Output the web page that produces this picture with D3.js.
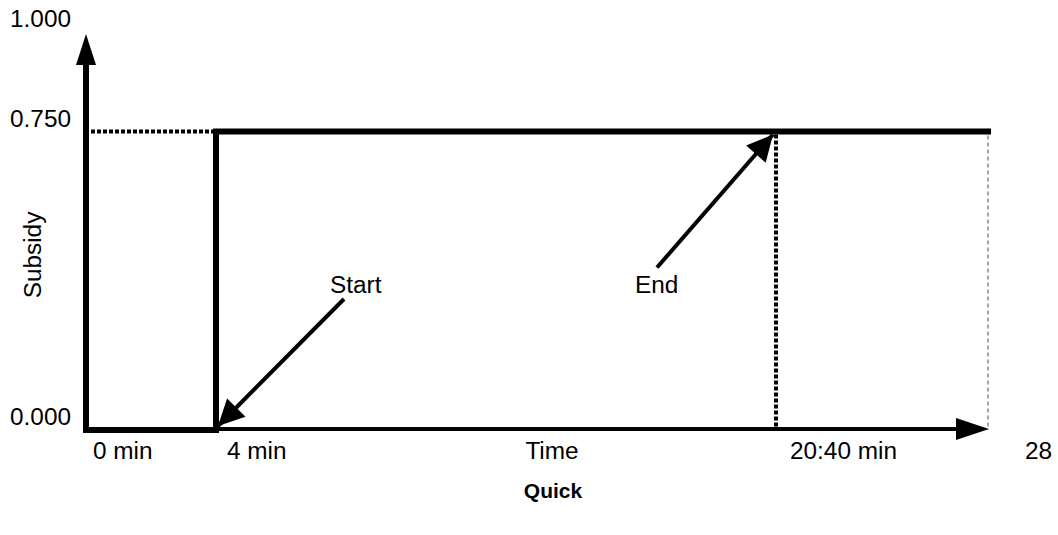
<!DOCTYPE html>
<html>
<head>
<meta charset="utf-8">
<script src="https://cdn.jsdelivr.net/npm/d3@7"></script>
<style>
  html, body { margin: 0; padding: 0; background: #fff; }
  text { font-family: 'Liberation Sans', Arial, sans-serif; fill: #000; }
</style>
</head>
<body>
<div id="chart"></div>
<script>
const width = 1058;
const height = 535;

// data
const timeTicks = [0, 4, 20 + 40 / 60, 28];
const timeLabels = ['0 min', '4 min', '20:40 min', '28'];
const subsidyTicks = [0, 0.75, 1];
const subsidyLabels = ['0.000', '0.750', '1.000'];
const stepTimes = [0, 4, 4, 28];
const stepValues = [0, 0, 0.75, 0.75];
const startTime = 4;
const endTime = 20 + 40 / 60;
const subsidyLevel = 0.75;

const svg = d3
  .select('#chart')
  .append('svg')
  .attr('width', width)
  .attr('height', height);

// schematic time axis, not to scale
const x = d3.scaleLinear().domain(timeTicks).range([87, 216, 776, 988]);
const y = d3.scaleLinear().domain([0, 1]).range([430, 32]);

const sx = 1.06; // the source font is drawn a bit wide

function label(text, px, py, anchor, size, weight, stretch) {
  svg
    .append('text')
    .attr('transform', 'translate(' + px + ',' + py + ') scale(' + (stretch || sx) + ',1)')
    .attr('text-anchor', anchor)
    .style('font-size', (size || 23) + 'px')
    .style('font-weight', weight || 'normal')
    .text(text);
}

// dotted guide at the subsidy level
svg
  .append('line')
  .attr('x1', x(0) + 4)
  .attr('x2', x(startTime) - 3)
  .attr('y1', y(subsidyLevel))
  .attr('y2', y(subsidyLevel))
  .attr('stroke', '#000')
  .attr('stroke-width', 4)
  .attr('stroke-dasharray', '4,2');

// dotted drop line at the end
svg
  .append('line')
  .attr('x1', x(endTime))
  .attr('x2', x(endTime))
  .attr('y1', y(subsidyLevel) + 3)
  .attr('y2', y(0))
  .attr('stroke', '#000')
  .attr('stroke-width', 4)
  .attr('stroke-dasharray', '4,2');

// thin grey line at the right end
svg
  .append('line')
  .attr('x1', x(28))
  .attr('x2', x(28))
  .attr('y1', y(subsidyLevel) - 3)
  .attr('y2', y(0))
  .attr('stroke', '#888')
  .attr('stroke-width', 1.5)
  .attr('stroke-dasharray', '4,3');

// x axis
svg
  .append('line')
  .attr('x1', x(startTime))
  .attr('x2', x(28) - 32)
  .attr('y1', y(0) - 1)
  .attr('y2', y(0) - 1)
  .attr('stroke', '#000')
  .attr('stroke-width', 4);

svg
  .append('path')
  .attr(
    'd',
    'M' + (x(28) + 1) + ',' + (y(0) - 1) +
      'L' + (x(28) - 32) + ',' + (y(0) - 12) +
      'L' + (x(28) - 32) + ',' + (y(0) + 10) + 'Z'
  )
  .attr('fill', '#000');

// y axis
svg
  .append('line')
  .attr('x1', x(0) - 1)
  .attr('x2', x(0) - 1)
  .attr('y1', y(0) + 3)
  .attr('y2', y(1) + 30)
  .attr('stroke', '#000')
  .attr('stroke-width', 6);

svg
  .append('path')
  .attr(
    'd',
    'M' + (x(0) - 1) + ',' + (y(1) + 2) +
      'L' + (x(0) - 11) + ',' + (y(1) + 33) +
      'L' + (x(0) + 9) + ',' + (y(1) + 33) + 'Z'
  )
  .attr('fill', '#000');

// subsidy step
const line = d3
  .line()
  .x((d) => x(d[0]))
  .y((d) => y(d[1]))
  .curve(d3.curveLinear);

svg
  .append('path')
  .datum(d3.zip(stepTimes, stepValues))
  .attr('d', line)
  .attr('fill', 'none')
  .attr('stroke', '#000')
  .attr('stroke-width', 6)
  .attr('stroke-linecap', 'square')
  .attr('stroke-linejoin', 'miter');

// annotation arrows
svg
  .append('defs')
  .append('marker')
  .attr('id', 'head')
  .attr('viewBox', '0 0 10 10')
  .attr('refX', 10)
  .attr('refY', 5)
  .attr('markerWidth', 8)
  .attr('markerHeight', 6.5)
  .attr('markerUnits', 'strokeWidth')
  .attr('orient', 'auto')
  .append('path')
  .attr('d', 'M0,0L10,5L0,10Z')
  .attr('fill', '#000');

function arrow(x1, y1, x2, y2) {
  svg
    .append('line')
    .attr('x1', x1)
    .attr('y1', y1)
    .attr('x2', x2)
    .attr('y2', y2)
    .attr('stroke', '#000')
    .attr('stroke-width', 4)
    .attr('marker-end', 'url(#head)');
}

arrow(x(startTime) + 128, y(0) - 131, x(startTime) + 2, y(0) - 4);
arrow(x(endTime) - 119, y(subsidyLevel) + 136, x(endTime) - 3, y(subsidyLevel) + 3);

label('Start', x(startTime) + 114, 293, 'start');
label('End', x(endTime) - 141, 293, 'start');

// tick labels
subsidyTicks.forEach((v, i) => {
  label(subsidyLabels[i], 71, y(v) - 5, 'end');
});

const labelDx = [6, 11, 14, 37];
timeTicks.forEach((t, i) => {
  label(timeLabels[i], x(t) + labelDx[i], 459, 'start');
});

label('Time', 552, 459, 'middle');
label('Quick', 553, 498, 'middle', 21, 'bold', 1);

svg
  .append('text')
  .attr('transform', 'translate(41,255) rotate(-90) scale(' + sx + ',1)')
  .attr('text-anchor', 'middle')
  .style('font-size', '23px')
  .text('Subsidy');
</script>
</body>
</html>
